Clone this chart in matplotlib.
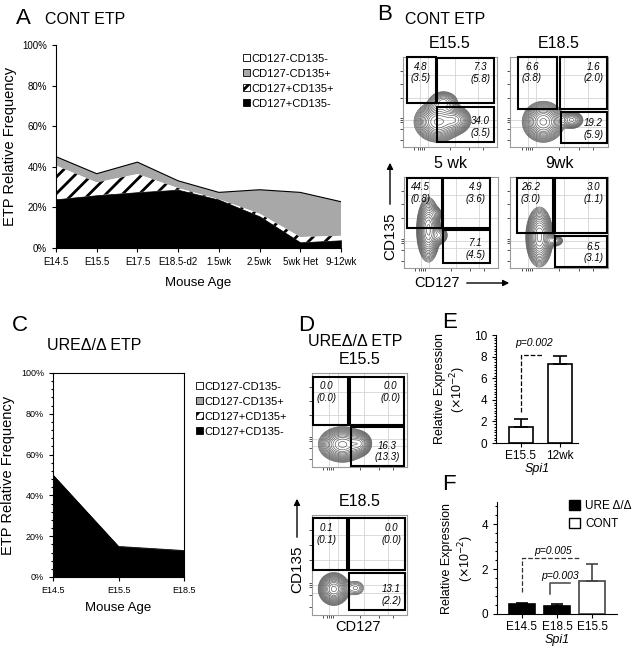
import numpy as np
import matplotlib.pyplot as plt
from matplotlib.patches import Rectangle, Patch, FancyArrowPatch
from matplotlib.ticker import PercentFormatter, AutoMinorLocator, MultipleLocator

plt.rcParams['font.family'] = ['Liberation Sans', 'DejaVu Sans']
plt.rcParams['hatch.linewidth'] = 2.0

# ---- panel A data (% of ETP, stacked bottom -> top)
ages_a = ['E14.5', 'E15.5', 'E17.5', 'E18.5-d2', '1.5wk', '2.5wk', '5wk Het', '9-12wk']
a_127p_135n = [24.0, 26.0, 27.5, 28.7, 23.8, 15.6, 2.8, 3.8]
a_127p_135p = [16.6, 6.3, 8.9, 0.8, 0.2, 1.3, 2.6, 2.2]
a_127n_135p = [4.4, 4.3, 5.9, 3.6, 3.4, 11.8, 22.0, 16.8]

# ---- panel C data
ages_c = ['E14.5', 'E15.5', 'E18.5']
c_127p_135n = [50.0, 15.0, 13.0]
c_127p_135p = [0.0, 0.0, 0.0]
c_127n_135p = [0.0, 0.0, 0.0]

legend_labels = ['CD127-CD135-', 'CD127-CD135+', 'CD127+CD135+', 'CD127+CD135-']

# ---- flow plots: gate numbers (UL, UR, LR) as (mean, sd)
flow_b_titles = ['E15.5', 'E18.5', '5 wk', '9wk']
flow_b_vals = [[('4.8', '3.5'), ('7.3', '5.8'), ('34.0', '3.5')],
               [('6.6', '3.8'), ('1.6', '2.0'), ('19.2', '5.9')],
               [('44.5', '0.8'), ('4.9', '3.6'), ('7.1', '4.5')],
               [('26.2', '3.0'), ('3.0', '1.1'), ('6.5', '3.1')]]
flow_d_titles = ['E15.5', 'E18.5']
flow_d_vals = [[('0.0', '0.0'), ('0.0', '0.0'), ('16.3', '13.3')],
               [('0.1', '0.1'), ('0.0', '0.0'), ('13.1', '2.2')]]

# population blobs per plot: (cx, cy, sx, sy, weight) in plot fractions
blobs_b = [[(0.37, 0.28, 0.10, 0.09, 1.0), (0.43, 0.50, 0.07, 0.055, 0.35), (0.56, 0.30, 0.07, 0.065, 0.6)],
           [(0.34, 0.28, 0.085, 0.09, 1.0), (0.63, 0.30, 0.055, 0.045, 0.35)],
           [(0.26, 0.42, 0.05, 0.14, 1.0), (0.38, 0.36, 0.04, 0.045, 0.3), (0.34, 0.60, 0.035, 0.035, 0.12)],
           [(0.30, 0.34, 0.055, 0.13, 1.0), (0.46, 0.30, 0.04, 0.03, 0.25)]]
blobs_d = [[(0.32, 0.24, 0.10, 0.075, 1.0), (0.50, 0.25, 0.055, 0.055, 0.5)],
           [(0.23, 0.26, 0.065, 0.065, 1.0), (0.46, 0.27, 0.055, 0.045, 0.12)]]

# ---- panel E / F data (x10^-2)
e_groups = ['E15.5', '12wk']
e_means = [1.5, 7.35]
e_errs = [0.75, 0.7]
f_groups = ['E14.5', 'E18.5', 'E15.5']
f_means = [0.44, 0.37, 1.47]
f_errs = [0.05, 0.08, 0.75]

W, H = 639, 661
fig = plt.figure(figsize=(W / 100, H / 100), dpi=100)


def px_axes(x0, y0, x1, y1):
    return fig.add_axes([x0 / W, 1 - y1 / H, (x1 - x0) / W, (y1 - y0) / H])


def px_text(x, y, s, **kw):
    kw.setdefault('ha', 'left')
    kw.setdefault('va', 'center')
    fig.text(x / W, 1 - y / H, s, **kw)


def px_arrow(x0, y0, x1, y1):
    fig.add_artist(FancyArrowPatch((x0 / W, 1 - y0 / H), (x1 / W, 1 - y1 / H),
                                   transform=fig.transFigure, arrowstyle='-|>',
                                   mutation_scale=9, lw=1.0, color='black'))


def area_panel(ax, labels, black, hatched, gray):
    x = np.arange(len(labels))
    b = np.array(black)
    h = b + np.array(hatched)
    g = h + np.array(gray)
    ax.fill_between(x, 0, 100, color='white', lw=0)
    ax.fill_between(x, h, g, facecolor='#a8a8a8', edgecolor='none')
    ax.fill_between(x, b, h, facecolor='white', edgecolor='black', hatch='//', lw=0)
    ax.fill_between(x, 0, b, facecolor='black', edgecolor='black', lw=0.5)
    ax.plot(x, g, color='black', lw=0.8)
    ax.set_xlim(0, len(labels) - 1)
    ax.set_ylim(0, 100)
    ax.set_xticks(x)
    ax.set_xticklabels(labels)
    ax.yaxis.set_major_formatter(PercentFormatter(decimals=0))
    ax.set_yticks(range(0, 101, 20))
    return ax


def legend_handles():
    return [Patch(facecolor='white', edgecolor='black', lw=0.6),
            Patch(facecolor='#a8a8a8', edgecolor='black', lw=0.6),
            Patch(facecolor='white', edgecolor='black', hatch='///', lw=0.6),
            Patch(facecolor='black', edgecolor='black', lw=0.6)]


# ================= Panel A =================
axA = px_axes(56, 45, 341, 248)
area_panel(axA, ages_a, a_127p_135n, a_127p_135p, a_127n_135p)
for s in ['top', 'right']:
    axA.spines[s].set_visible(False)
axA.tick_params(labelsize=7, length=3, width=0.8)
axA.set_ylabel('ETP Relative Frequency', fontsize=10.5, labelpad=4)
axA.set_xlabel('Mouse Age', fontsize=9.5, labelpad=7)
axA.legend(legend_handles(), legend_labels, loc='upper left', bbox_to_anchor=(0.64, 0.98),
           frameon=False, fontsize=8, handlelength=0.6, handleheight=0.6,
           handletextpad=0.15, labelspacing=0.45, borderaxespad=0)
px_text(16, 18, 'A', fontsize=16)
px_text(45, 20, 'CONT ETP', fontsize=11.5)

# ================= Panel C =================
axC = px_axes(53, 373, 184, 577)
area_panel(axC, ages_c, c_127p_135n, c_127p_135p, c_127n_135p)
axC.lines[-1].set_linewidth(0.5)
axC.yaxis.set_minor_locator(AutoMinorLocator(5))
axC.tick_params(which='both', labelsize=6.5, width=0.8)
axC.tick_params(which='major', length=3)
axC.tick_params(which='minor', length=1.8)
for lab in axC.get_xticklabels() + axC.get_yticklabels():
    lab.set_family(['Liberation Sans Narrow', 'Liberation Sans'])
axC.set_ylabel('ETP Relative Frequency', fontsize=10.5, labelpad=4)
axC.set_xlabel('Mouse Age', fontsize=9.5, labelpad=5)
axC.legend(legend_handles(), legend_labels, loc='upper left', bbox_to_anchor=(1.06, 0.98),
           frameon=False, fontsize=8, handlelength=0.6, handleheight=0.6,
           handletextpad=0.15, labelspacing=0.45, borderaxespad=0)
px_text(12, 326, 'C', fontsize=16)
px_text(47, 345, 'URE\u0394/\u0394 ETP', fontsize=11.5)

# ================= Flow plots (B, D) =================
gx = np.linspace(0, 1, 200)
GX, GY = np.meshgrid(gx, gx)
frac_levels = np.geomspace(0.04, 0.92, 16)


def flow_plot(box, title, vals, blobs, gates):
    ax = px_axes(*box)
    ax.set_xlim(0, 1)
    ax.set_ylim(0, 1)
    for v in [0.18, 0.27, 0.55, 0.8]:
        ax.axvline(v, color='#d4d4d4', lw=0.6, zorder=0)
    for v in [0.22, 0.3, 0.55, 0.8]:
        ax.axhline(v, color='#d4d4d4', lw=0.6, zorder=0)
    dens = np.zeros_like(GX)
    for cx, cy, sx, sy, w in blobs:
        dens += w * np.exp(-0.5 * (((GX - cx) / sx) ** 2 + ((GY - cy) / sy) ** 2))
    ax.contour(GX, GY, dens, levels=frac_levels * dens.max(),
               colors='#555555', linewidths=0.45)
    for (x0, x1, y0, y1) in gates:
        ax.add_patch(Rectangle((x0, y0), x1 - x0, y1 - y0, fill=False,
                               ec='black', lw=1.5, clip_on=False, zorder=5))
    (ul, ur, lr) = vals
    (g_ul, g_ur, g_lr) = gates
    tk = dict(fontsize=7, style='italic', multialignment='center', zorder=6)
    ax.text(g_ul[0] + 0.04, g_ul[3] - 0.05, f'{ul[0]}\n({ul[1]})', ha='left', va='top', **tk)
    ax.text(g_ur[1] - 0.04, g_ur[3] - 0.05, f'{ur[0]}\n({ur[1]})', ha='right', va='top', **tk)
    ax.text(g_lr[1] - 0.04, g_lr[2] + 0.04, f'{lr[0]}\n({lr[1]})', ha='right', va='bottom', **tk)
    ax.set_xticks([0.12, 0.16, 0.18, 0.2, 0.22, 0.5, 0.7, 0.85])
    ax.set_yticks([0.08, 0.2, 0.28, 0.3, 0.32, 0.55, 0.7, 0.85])
    ax.tick_params(length=2, width=0.6, labelbottom=False, labelleft=False, color='#333333')
    for s in ax.spines.values():
        s.set_color('#9a9a9a')
        s.set_linewidth(0.8)
    cx = (box[0] + box[2]) / 2
    px_text(cx, box[1] - 13, title, fontsize=11.5, ha='center')
    return ax


boxes_b = [(403, 57, 497, 147), (510, 57, 608, 147), (404, 177, 498, 268), (510, 177, 608, 268)]
gates_b = [[(0.04, 0.35, 0.49, 1.0), (0.36, 0.97, 0.49, 0.99), (0.36, 0.97, 0.06, 0.44)],
           [(0.08, 0.48, 0.42, 1.0), (0.51, 0.99, 0.42, 1.0), (0.52, 0.99, 0.04, 0.39)],
           [(0.03, 0.40, 0.44, 0.99), (0.41, 0.91, 0.44, 0.99), (0.41, 0.91, 0.05, 0.42)],
           [(0.07, 0.44, 0.38, 0.99), (0.46, 0.99, 0.38, 0.99), (0.46, 0.99, 0.01, 0.35)]]
for i in range(4):
    flow_plot(boxes_b[i], flow_b_titles[i], flow_b_vals[i], blobs_b[i], gates_b[i])

boxes_d = [(312, 373, 407, 467), (312, 515, 407, 615)]
gates_d = [[(0.01, 0.38, 0.45, 0.96), (0.40, 0.97, 0.45, 0.96), (0.41, 0.97, 0.01, 0.43)],
           [(0.01, 0.37, 0.45, 0.97), (0.39, 0.98, 0.45, 0.97), (0.39, 0.98, 0.05, 0.42)]]
for i in range(2):
    flow_plot(boxes_d[i], flow_d_titles[i], flow_d_vals[i], blobs_d[i], gates_d[i])

px_text(377, 15, 'B', fontsize=16)
px_text(405, 20, 'CONT ETP', fontsize=11.5)
px_text(390, 236, 'CD135', fontsize=11, rotation=90, ha='center')
px_arrow(390, 207, 390, 160)
px_text(437, 283, 'CD127', fontsize=10.5, ha='center')
px_arrow(464, 283, 512, 283)

px_text(298, 326, 'D', fontsize=16)
px_text(308, 341, 'URE\u0394/\u0394 ETP', fontsize=11.5)
px_text(297, 569, 'CD135', fontsize=11, rotation=90, ha='center')
px_arrow(297, 540, 297, 496)
px_text(358, 627, 'CD127', fontsize=10.5, ha='center')

# ================= Panel E =================
axE = px_axes(496, 335, 578, 443)
xe = np.arange(len(e_groups))
axE.bar(xe, e_means, width=0.62, color='white', edgecolor='black', lw=1.2,
        yerr=[np.zeros(len(e_errs)), e_errs], error_kw=dict(lw=1.2, capsize=5, capthick=1.2))
axE.set_xlim(-0.64, 1.46)
axE.set_ylim(0, 10)
axE.set_yticks(range(0, 11, 2))
axE.yaxis.set_minor_locator(MultipleLocator(0.25))
axE.set_xticks(xe)
axE.set_xticklabels(e_groups)
axE.set_xlabel('Spi1', style='italic', fontsize=9, labelpad=1)
axE.plot([0, 0, 0.56], [2.9, 8.15, 8.15], ls='--', color='black', lw=0.9)
axE.text(0.33, 9.3, 'p=0.002', style='italic', fontsize=7.5, ha='center', va='center')
px_text(442, 322, 'E', fontsize=16)

# ================= Panel F =================
axF = px_axes(497, 502, 617, 614)
xf = np.arange(len(f_groups))
f_face = ['black', 'black', 'white']
f_edge = ['black', 'black', '#444444']
for i in xf:
    axF.bar(i, f_means[i], width=0.74, color=f_face[i], edgecolor=f_edge[i], lw=1.2,
            yerr=[[0], [f_errs[i]]], ecolor=f_edge[i],
            error_kw=dict(lw=1.2, capsize=4, capthick=1.2))
axF.set_xlim(-0.71, 2.71)
axF.set_ylim(0, 5)
axF.yaxis.set_minor_locator(AutoMinorLocator(5))
axF.set_xticks(xf)
axF.set_xticklabels(f_groups)
axF.set_xlabel('Spi1', style='italic', fontsize=9, labelpad=1)
axF.plot([0, 0, 1.66], [0.98, 2.5, 2.5], ls='--', color='#333333', lw=0.9)
axF.text(0.89, 2.8, 'p=0.005', style='italic', fontsize=7.5, ha='center', va='center')
axF.plot([0.8, 0.8, 1.37], [0.9, 1.38, 1.38], color='#444444', lw=1.1)
axF.text(1.09, 1.7, 'p=0.003', style='italic', fontsize=7.5, ha='center', va='center')
axF.legend([Patch(facecolor='black', edgecolor='black'), Patch(facecolor='white', edgecolor='black')],
           ['URE \u0394/\u0394', 'CONT'], loc='upper left', bbox_to_anchor=(0.56, 1.06),
           frameon=False, fontsize=8.5, handlelength=0.9, handleheight=0.9,
           handletextpad=0.5, labelspacing=0.5, borderaxespad=0)
px_text(442, 485, 'F', fontsize=16)

for ax in (axE, axF):
    for s in ['top', 'right']:
        ax.spines[s].set_visible(False)
    ax.tick_params(which='both', labelsize=8.5, width=0.8)
    ax.tick_params(which='major', length=3)
    ax.tick_params(which='minor', length=1.6)
    ax.tick_params(axis='x', labelsize=8.5, pad=2)
    ax.set_ylabel('Relative Expression\n($\\times$10$^{-2}$)', fontsize=9, labelpad=4)

fig.savefig('out.png', dpi=100)
